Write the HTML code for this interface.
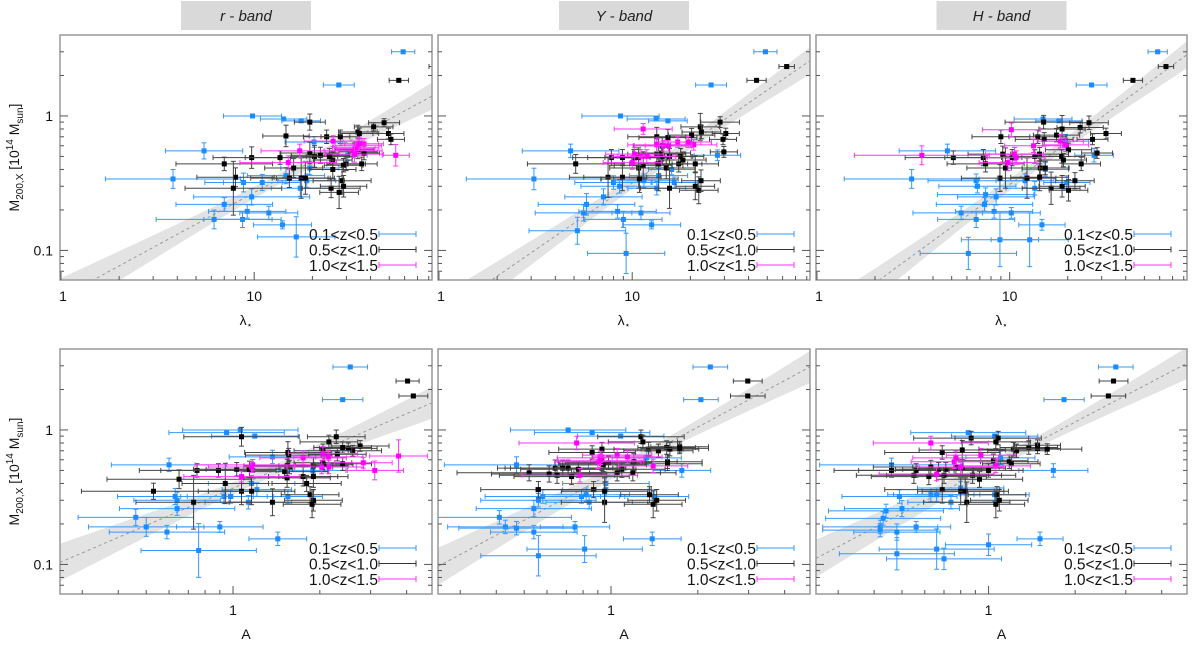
<!DOCTYPE html>
<html><head><meta charset="utf-8">
<style>
html,body{margin:0;padding:0;background:#fff;}
svg{display:block;font-family:"Liberation Sans",sans-serif;}
</style></head>
<body>
<svg id="fig" width="1200" height="647" viewBox="0 0 1200 647" xmlns="http://www.w3.org/2000/svg"></svg>
<script>
// ---------- data: [x, M200 (1e14 Msun), group(0:0.1-0.5,1:0.5-1.0,2:1.0-1.5), xErr(dex), yErr(dex)] ----------
const rLam = [[59,3.0,0,.06,.01],[27.4,1.7,0,.08,.01],[9.8,1.0,0,.15,.01],[14.2,.95,0,.12,.01],[17.5,.92,0,.1,.01],[5.5,.55,0,.2,.06],[20.4,.64,0,.15,.04],[3.8,.34,0,.35,.07],[7.0,.22,0,.25,.05],[8.7,.17,0,.2,.06],[9.2,.195,0,.2,.05],[11.9,.19,0,.15,.05],[14,.155,0,.15,.03],[16.5,.126,0,.2,.15],[9.7,.25,0,.3,.06],[8.8,.32,0,.2,.07],[11,.32,0,.2,.06],[14.6,.36,0,.2,.06],[17.3,.29,0,.15,.06],[18.7,.33,0,.15,.05],[19.4,.41,0,.15,.05],[30.5,.51,0,.1,.04],[6.2,.17,0,.3,.07],
[88,2.33,1,.04,.01],[56,1.84,1,.05,.01],[19.4,.9,1,.08,.06],[47,.89,1,.08,.03],[41.5,.83,1,.1,.03],[14.6,.71,1,.12,.08],[23.7,.70,1,.12,.05],[27.9,.70,1,.1,.05],[34.4,.76,1,.1,.05],[49.5,.74,1,.08,.04],[51,.67,1,.07,.04],[9.7,.49,1,.2,.08],[7.0,.44,1,.25,.05],[8.0,.35,1,.2,.07],[7.8,.29,1,.25,.2],[13.6,.49,1,.18,.05],[19.4,.53,1,.15,.08],[20.5,.5,1,.12,.08],[22,.51,1,.15,.06],[16,.41,1,.15,.07],[15.2,.345,1,.2,.07],[17.5,.345,1,.15,.15],[18.4,.345,1,.15,.12],[24.5,.5,1,.12,.06],[25.5,.47,1,.1,.06],[25.5,.40,1,.12,.07],[29.9,.44,1,.1,.05],[29,.43,1,.1,.05],[28.5,.33,1,.15,.1],[25,.29,1,.15,.07],[27.5,.27,1,.1,.12],[29,.30,1,.12,.08],[33,.56,1,.1,.05],[34.4,.54,1,.1,.05],[37,.53,1,.08,.05],[36,.44,1,.08,.05],[35,.74,1,.1,.04],
[33.5,.58,2,.12,.05],[32.5,.55,2,.15,.05],[37,.62,2,.1,.04],[34.5,.6,2,.12,.05],[33.5,.57,2,.1,.05],[54,.51,2,.07,.08],[25.6,.65,2,.15,.04],[17.2,.55,2,.2,.05],[15,.45,2,.25,.05],[33,.52,2,.15,.06],[35,.62,2,.1,.05]];
const yLam = [[48.9,3.0,0,.06,.01],[25.6,1.7,0,.08,.01],[8.7,1.0,0,.2,.01],[13.3,.95,0,.15,.01],[15.3,.92,0,.1,.01],[4.8,.55,0,.25,.05],[27.6,.51,0,.12,.04],[3.1,.34,0,.35,.08],[5.8,.22,0,.25,.08],[5.6,.19,0,.25,.06],[8.4,.195,0,.2,.05],[9.0,.17,0,.2,.06],[11.1,.19,0,.15,.05],[12.6,.155,0,.15,.03],[9.3,.095,0,.2,.15],[5.2,.14,0,.25,.1],[7.1,.25,0,.2,.06],[8.0,.32,0,.2,.05],[8.6,.30,0,.2,.05],[11.5,.33,0,.15,.05],[13.7,.36,0,.15,.05],[13.4,.29,0,.15,.05],[16,.40,0,.12,.04],[16.5,.32,0,.12,.04],
[63,2.33,1,.04,.01],[44,1.84,1,.05,.01],[28.5,.9,1,.1,.04],[22.5,.83,1,.1,.1],[22.8,.76,1,.1,.05],[30.5,.74,1,.07,.04],[29.5,.67,1,.07,.04],[29.8,.54,1,.07,.04],[13.4,.70,1,.15,.07],[15.3,.69,1,.15,.06],[14.3,.6,1,.15,.06],[20.3,.72,1,.12,.05],[5.1,.44,1,.25,.07],[7.8,.49,1,.2,.06],[8.9,.49,1,.18,.06],[10.2,.49,1,.15,.06],[10.8,.49,1,.15,.06],[13.4,.52,1,.15,.06],[14.2,.53,1,.15,.06],[14.3,.5,1,.15,.06],[15.6,.5,1,.12,.06],[17.8,.5,1,.12,.06],[18.3,.47,1,.12,.06],[7.5,.35,1,.2,.15],[8.9,.35,1,.2,.1],[10.8,.41,1,.15,.15],[11.4,.43,1,.15,.1],[13.7,.44,1,.15,.2],[15,.41,1,.15,.08],[17.4,.44,1,.12,.06],[21.2,.44,1,.12,.06],[15.6,.29,1,.15,.15],[21.2,.30,1,.1,.1],[22.1,.28,1,.1,.1],[22.7,.33,1,.1,.08],[10.9,.34,1,.2,.1],
[11.4,.8,2,.15,.04],[17.2,.64,2,.12,.04],[19.5,.64,2,.12,.04],[20.8,.61,2,.12,.04],[13.4,.61,2,.15,.05],[10.3,.52,2,.15,.05],[10,.45,2,.15,.05],[11.1,.5,2,.15,.05],[11.9,.5,2,.15,.05],[14.5,.6,2,.15,.04],[15.4,.6,2,.12,.04]];
const hLam = [[58.6,3.0,0,.05,.01],[26.6,1.7,0,.08,.01],[14.9,.95,0,.15,.01],[18,.92,0,.12,.01],[4.75,.55,0,.25,.05],[27.4,.51,0,.1,.05],[3.1,.34,0,.35,.07],[6.7,.33,0,.25,.05],[6.8,.30,0,.2,.05],[7.5,.26,0,.25,.05],[7.4,.22,0,.25,.05],[8.5,.25,0,.2,.06],[8.3,.195,0,.2,.05],[5.6,.19,0,.25,.05],[6.7,.17,0,.2,.06],[10.2,.19,0,.15,.04],[14.7,.155,0,.12,.04],[6.1,.095,0,.25,.12],[8.9,.12,0,.2,.2],[12.7,.12,0,.2,.2],[12,.33,0,.15,.05],[13.5,.29,0,.15,.05],[15.3,.40,0,.12,.05],[19.8,.32,0,.12,.05],[19.5,.65,0,.12,.05],
[64.7,2.33,1,.04,.01],[43.6,1.84,1,.05,.01],[15,.9,1,.2,.05],[25.8,.89,1,.1,.05],[31.6,.74,1,.08,.04],[26.9,.67,1,.08,.04],[28.4,.53,1,.08,.04],[23.2,.82,1,.12,.04],[18.7,.8,1,.12,.1],[9,.70,1,.15,.05],[14,.7,1,.15,.05],[15.1,.67,1,.15,.05],[17.5,.72,1,.12,.05],[5.1,.49,1,.25,.05],[7.3,.49,1,.2,.06],[7.5,.44,1,.2,.06],[9.2,.52,1,.18,.06],[10.3,.49,1,.15,.06],[9.5,.41,1,.2,.15],[13.5,.5,1,.15,.05],[14.3,.52,1,.15,.05],[14.4,.41,1,.15,.05],[15.3,.41,1,.12,.05],[18.6,.5,1,.12,.05],[20.2,.56,1,.12,.05],[19,.47,1,.12,.05],[23.5,.44,1,.1,.05],[8.9,.345,1,.2,.1],[12.3,.345,1,.15,.15],[14.3,.35,1,.15,.1],[16.4,.29,1,.15,.12],[18.7,.30,1,.12,.08],[20.2,.28,1,.1,.08],[21.8,.33,1,.1,.06],
[10.2,.79,2,.15,.05],[3.5,.51,2,.35,.07],[13.3,.6,2,.15,.05],[18.3,.65,2,.12,.05],[19.5,.61,2,.12,.05],[10.6,.52,2,.15,.05],[9.8,.45,2,.15,.06],[10.8,.49,2,.15,.05]];
const rA = [[2.55,2.94,0,.06,.01],[2.4,1.68,0,.07,.01],[.95,.955,0,.2,.01],[1.06,1.0,0,.2,.01],[1.19,.9,0,.15,.01],[.6,.55,0,.2,.05],[1.37,.63,0,.15,.05],[1.89,.5,0,.12,.05],[.46,.224,0,.2,.06],[.5,.19,0,.2,.07],[.59,.174,0,.2,.05],[.63,.32,0,.2,.06],[.64,.30,0,.15,.06],[.64,.26,0,.2,.05],[.9,.19,0,.15,.04],[.93,.32,0,.15,.05],[.98,.32,0,.15,.05],[1.13,.29,0,.15,.05],[1.16,.40,0,.15,.06],[1.21,.36,0,.12,.05],[1.55,.32,0,.12,.05],[1.43,.155,0,.1,.05],[.76,.127,0,.2,.2],
[4.03,2.31,1,.04,.01],[4.22,1.79,1,.05,.01],[1.07,.89,1,.2,.07],[2.15,.815,1,.1,.05],[2.28,.89,1,.1,.05],[2.51,.73,1,.1,.04],[2.6,.7,1,.1,.04],[2.76,.76,1,.1,.04],[2.4,.74,1,.1,.04],[2.05,.7,1,.1,.05],[2.3,.66,1,.1,.05],[1.55,.68,1,.15,.08],[1.56,.65,1,.15,.05],[1.57,.53,1,.15,.05],[1.54,.54,1,.15,.05],[1.51,.49,1,.15,.05],[1.54,.44,1,.15,.07],[1.75,.45,1,.12,.07],[1.8,.4,1,.12,.06],[1.9,.54,1,.12,.06],[1.9,.45,1,.12,.08],[2.05,.57,1,.1,.05],[2.07,.55,1,.1,.05],[2.4,.56,1,.1,.05],[.53,.35,1,.25,.06],[.65,.43,1,.25,.07],[.75,.5,1,.2,.05],[.89,.5,1,.2,.05],[1.03,.51,1,.15,.05],[1.14,.51,1,.15,.06],[.94,.4,1,.15,.15],[.73,.29,1,.2,.2],[1.07,.35,1,.15,.1],[1.16,.35,1,.15,.1],[1.37,.29,1,.15,.1],[1.85,.33,1,.1,.06],[1.9,.30,1,.1,.08],[1.88,.28,1,.1,.1],
[1.75,.62,2,.15,.05],[2.05,.67,2,.12,.05],[2.14,.63,2,.12,.05],[2.03,.53,2,.12,.05],[2.15,.53,2,.12,.05],[2.83,.57,2,.1,.04],[1.07,.45,2,.2,.04],[1.17,.55,2,.2,.04],[1.16,.53,2,.15,.04],[3.75,.64,2,.1,.12],[3.1,.5,2,.1,.07]];
const yA = [[2.21,2.94,0,.06,.01],[2.05,1.68,0,.06,.01],[.71,1.0,0,.2,.01],[.86,.955,0,.2,.01],[1.08,.9,0,.15,.01],[.47,.55,0,.25,.06],[1.76,.5,0,.1,.05],[.41,.224,0,.25,.05],[.43,.19,0,.2,.05],[.47,.186,0,.2,.05],[.54,.174,0,.15,.05],[.56,.3,0,.2,.05],[.58,.32,0,.2,.05],[.54,.26,0,.2,.06],[.75,.19,0,.12,.04],[.79,.32,0,.15,.05],[.82,.33,0,.15,.05],[.84,.29,0,.15,.05],[.96,.4,0,.15,.05],[.96,.36,0,.15,.05],[1.41,.32,0,.12,.05],[1.33,.62,0,.12,.05],[1.39,.155,0,.1,.05],[.56,.116,0,.2,.15],[.81,.13,0,.2,.1],
[2.98,2.31,1,.05,.01],[2.98,1.79,1,.06,.01],[1.27,.89,1,.15,.05],[1.29,.815,1,.12,.05],[1.35,.72,1,.12,.05],[1.46,.70,1,.12,.05],[1.56,.74,1,.1,.05],[1.6,.72,1,.1,.05],[1.73,.75,1,.1,.04],[1.73,.73,1,.1,.04],[.93,.72,1,.15,.05],[.86,.68,1,.15,.05],[.93,.58,1,.15,.05],[.98,.57,1,.15,.05],[.93,.56,1,.15,.05],[.94,.55,1,.15,.05],[1.05,.48,1,.15,.06],[1.09,.51,1,.15,.06],[1.19,.48,1,.15,.06],[1.2,.58,1,.15,.06],[1.57,.58,1,.12,.05],[1.57,.56,1,.12,.05],[.52,.48,1,.25,.06],[.61,.47,1,.2,.06],[.64,.52,1,.2,.06],[.68,.52,1,.2,.06],[.71,.52,1,.2,.06],[.77,.51,1,.2,.06],[.65,.46,1,.2,.06],[.73,.45,1,.2,.06],[.87,.36,1,.2,.06],[.56,.36,1,.2,.06],[.95,.29,1,.15,.15],[.95,.35,1,.15,.1],[1.36,.33,1,.1,.06],[1.4,.28,1,.1,.1],[1.44,.3,1,.1,.08],
[.76,.8,2,.2,.05],[.78,.46,2,.2,.05],[.9,.58,2,.15,.05],[.92,.62,2,.15,.05],[1.05,.65,2,.12,.05],[1.14,.63,2,.12,.05],[1.4,.54,2,.12,.05],[.92,.59,2,.15,.05]];
const hA = [[2.77,2.94,0,.06,.01],[1.83,1.68,0,.07,.01],[.85,.955,0,.2,.01],[1.05,.9,0,.15,.01],[.46,.55,0,.25,.05],[1.68,.5,0,.12,.05],[.44,.25,0,.2,.05],[.43,.22,0,.2,.05],[.42,.19,0,.2,.05],[.42,.18,0,.2,.05],[.48,.174,0,.15,.06],[.56,.19,0,.12,.04],[.49,.32,0,.2,.05],[.5,.26,0,.2,.06],[.63,.33,0,.15,.05],[.66,.33,0,.15,.05],[.74,.29,0,.15,.05],[.8,.37,0,.15,.05],[1.1,.62,0,.12,.05],[1.05,.33,0,.12,.05],[1.51,.155,0,.08,.05],[.48,.12,0,.2,.12],[.66,.13,0,.2,.15],[.7,.11,0,.2,.08],[1.0,.14,0,.15,.08],
[2.72,2.31,1,.05,.01],[2.61,1.79,1,.06,.01],[.87,.87,1,.2,.05],[1.08,.87,1,.15,.05],[1.06,.815,1,.12,.05],[1.22,.72,1,.12,.05],[1.25,.70,1,.1,.05],[1.38,.74,1,.1,.05],[1.48,.77,1,.08,.04],[1.48,.73,1,.08,.04],[1.6,.72,1,.12,.04],[.69,.68,1,.2,.05],[.81,.71,1,.15,.07],[.46,.5,1,.2,.05],[.56,.5,1,.2,.05],[.63,.53,1,.2,.05],[.67,.51,1,.15,.05],[.71,.51,1,.15,.05],[.77,.53,1,.15,.05],[.81,.52,1,.15,.05],[.88,.46,1,.15,.06],[.93,.43,1,.15,.06],[1.0,.5,1,.12,.05],[1.04,.59,1,.12,.05],[1.18,.58,1,.1,.05],[1.2,.56,1,.1,.05],[.55,.46,1,.2,.06],[.62,.45,1,.2,.06],[.70,.46,1,.2,.06],[.69,.36,1,.2,.1],[.8,.35,1,.15,.1],[.83,.35,1,.15,.1],[.84,.29,1,.15,.15],[1.07,.33,1,.1,.06],[1.06,.28,1,.1,.1],[1.09,.3,1,.1,.08],
[.63,.8,2,.2,.05],[.66,.47,2,.2,.05],[.76,.58,2,.15,.05],[.77,.62,2,.15,.05],[.94,.65,2,.12,.05],[1.06,.54,2,.12,.05],[.8,.53,2,.15,.05]];
// best-fit relations: log M = intercept + slope * log x
const fitSlopes = [0.78, 0.99, 1.05, 0.92, 1.15, 1.125];
const fitIntercepts = [-1.35, -1.49, -1.56, -0.433, -0.325, -0.28];
const bandLabels = ["r - band", "Y - band", "H - band"];
const legendLabels = ["0.1<z<0.5", "0.5<z<1.0", "1.0<z<1.5"];
const yTickLabels = ["0.1", "1"];
const topXTickLabels = ["1", "10"];
const botXTickLabels = ["1"];

// ---------- drawing ----------
const NS = "http://www.w3.org/2000/svg";
const svg = document.getElementById("fig");
function mk(tag, attrs, parent) {
  const e = document.createElementNS(NS, tag);
  for (const k in attrs) e.setAttribute(k, attrs[k]);
  (parent || svg).appendChild(e);
  return e;
}
const colMark = ["#1a8cff", "#000000", "#ff00ff"];
const colErr = ["#3399ff", "#444444", "#ff33ff"];
const colLeg = ["#3399ff", "#333333", "#ff33ff"];
const groupNames = ["low-z", "mid-z", "high-z"];
const xCols = [[60, 432], [438, 810], [816, 1187]];
const rows = [{y0: 35, y1: 280, lx: [-0.005, 1.92], piv: 1.15, hw0: 0.04, hwk: 0.12},
              {y0: 349, y1: 594, lx: [-0.6, 0.69], piv: 0.1, hw0: 0.04, hwk: 0.19}];
const LY = [-1.22, 0.602];
const datasets = [rLam, yLam, hLam, rA, yA, hA];
const panelNames = ["r-band-lambda", "y-band-lambda", "h-band-lambda", "r-band-a", "y-band-a", "h-band-a"];

// band header boxes
bandLabels.forEach((lab, i) => {
  const cx = (xCols[i][0] + xCols[i][1]) / 2;
  const g = mk("g", {});
  
  
  mk("rect", {x: cx - 65, y: 1, width: 130, height: 29, fill: "#d9d9d9"}, g);
  const t = mk("text", {x: cx, y: 21, "text-anchor": "middle", "font-size": 15, "font-style": "italic", fill: "#222"}, g);
  t.textContent = lab;
});

for (let p = 0; p < 6; p++) {
  const row = rows[p < 3 ? 0 : 1], col = xCols[p % 3];
  const X0 = col[0], X1 = col[1], Y0 = row.y0, Y1 = row.y1;
  const sx = lx => X0 + (lx - row.lx[0]) / (row.lx[1] - row.lx[0]) * (X1 - X0);
  const sy = ly => Y1 - (ly - LY[0]) / (LY[1] - LY[0]) * (Y1 - Y0);
  const g = mk("g", {});
  
  
  const clipId = "clip" + p;
  const cp = mk("clipPath", {id: clipId}, g);
  mk("rect", {x: X0, y: Y0, width: X1 - X0, height: Y1 - Y0}, cp);
  const plot = mk("g", {"clip-path": "url(#" + clipId + ")"}, g);

  // fit band
  const sl = fitSlopes[p], ic = fitIntercepts[p];
  const up = [], dn = [];
  for (let k = 0; k <= 40; k++) {
    const lx = row.lx[0] + (row.lx[1] - row.lx[0]) * k / 40;
    const hw = Math.sqrt(row.hw0 * row.hw0 + Math.pow(row.hwk * (lx - row.piv), 2));
    const m = ic + sl * lx;
    up.push(sx(lx).toFixed(1) + "," + sy(m + hw).toFixed(1));
    dn.unshift(sx(lx).toFixed(1) + "," + sy(m - hw).toFixed(1));
  }
  const band = mk("polygon", {points: up.concat(dn).join(" "), fill: "#e3e3e3"}, plot);
  
  
  const fl = mk("line", {x1: sx(row.lx[0]), y1: sy(ic + sl * row.lx[0]), x2: sx(row.lx[1]), y2: sy(ic + sl * row.lx[1]), stroke: "#999", "stroke-width": 1, "stroke-dasharray": "3,3"}, plot);
  
  

  // points
  datasets[p].forEach(d => {
    const lx = Math.log10(d[0]), ly = Math.log10(d[1]), gr = d[2];
    const cx = sx(lx), cy = sy(ly);
    const xa = sx(lx - d[3]), xb = sx(lx + d[3]), ya = sy(ly - d[4]), yb = sy(ly + d[4]);
    const pg = mk("g", {stroke: colErr[gr], "stroke-width": 1}, plot);
    
    
    mk("line", {x1: xa, y1: cy, x2: xb, y2: cy}, pg);
    mk("line", {x1: xa, y1: cy - 2.5, x2: xa, y2: cy + 2.5}, pg);
    mk("line", {x1: xb, y1: cy - 2.5, x2: xb, y2: cy + 2.5}, pg);
    mk("line", {x1: cx, y1: ya, x2: cx, y2: yb}, pg);
    mk("line", {x1: cx - 2.5, y1: ya, x2: cx + 2.5, y2: ya}, pg);
    mk("line", {x1: cx - 2.5, y1: yb, x2: cx + 2.5, y2: yb}, pg);
    mk("rect", {x: cx - 2.5, y: cy - 2.5, width: 5, height: 5, fill: colMark[gr], stroke: "none"}, pg);
  });

  // frame
  const fr = mk("rect", {x: X0, y: Y0, width: X1 - X0, height: Y1 - Y0, fill: "none", stroke: "#999", "stroke-width": 1.5}, g);
  
  

  // y ticks
  const yt = mk("g", {stroke: "#555", "stroke-width": 1}, g);
  
  
  [0.06,0.07,0.08,0.09,0.1,0.2,0.3,0.4,0.5,0.6,0.7,0.8,0.9,1,2,3,4].forEach(v => {
    const ly = Math.log10(v);
    if (ly < LY[0] || ly > LY[1]) return;
    const major = (v === 0.1 || v === 1);
    const L = major ? 8 : 4, y = sy(ly);
    mk("line", {x1: X0, y1: y, x2: X0 + L, y2: y}, yt);
    mk("line", {x1: X1, y1: y, x2: X1 - L, y2: y}, yt);
  });
  if (p % 3 === 0) {
    yTickLabels.forEach(s => {
      const t = mk("text", {x: X0 - 7, y: sy(Math.log10(parseFloat(s))) + 5, "text-anchor": "end", "font-size": 14, fill: "#111"}, g);
      
      
      t.textContent = s;
    });
    const cy = (Y0 + Y1) / 2;
    const yl = mk("text", {transform: "translate(19," + cy + ") rotate(-90)", "text-anchor": "middle", "font-size": 14, fill: "#111"}, g);
    
    
    yl.innerHTML = 'M<tspan font-size="10" dy="4">200,X</tspan><tspan dy="-4"> [10</tspan><tspan font-size="10" dy="-6">14</tspan><tspan dy="6"> M</tspan><tspan font-size="10" dy="4">sun</tspan><tspan dy="-4">]</tspan>';
  }

  // x ticks
  const xt = mk("g", {stroke: "#555", "stroke-width": 1}, g);
  
  
  const xv = p < 3 ? [1,2,3,4,5,6,7,8,9,10,20,30,40,50,60,70,80,90] : [0.2,0.3,0.4,0.5,0.6,0.7,0.8,0.9,1,2,3,4];
  xv.forEach(v => {
    const lx = Math.log10(v);
    if (lx < row.lx[0] || lx > row.lx[1]) return;
    const major = (v === 1 || v === 10);
    const x = sx(lx);
    mk("line", {x1: x, y1: Y1, x2: x, y2: Y1 - (major ? 8 : 4)}, xt);
  });
  const labs = p < 3 ? topXTickLabels : botXTickLabels;
  labs.forEach(s => {
    const t = mk("text", {x: Math.max(sx(Math.log10(parseFloat(s))), X0 + 3), y: Y1 + 21, "text-anchor": "middle", "font-size": 14, fill: "#111"}, g);
    
    
    t.textContent = s;
  });
  const xl = mk("text", {x: (X0 + X1) / 2, y: Y1 + 45, "text-anchor": "middle", "font-size": 14, fill: "#111"}, g);
  
  
  if (p < 3) xl.innerHTML = 'λ<tspan font-size="9" dy="3">⋆</tspan>'; else xl.textContent = 'A';

  // legend
  const lg = mk("g", {}, g);
  
  
  legendLabels.forEach((s, i) => {
    const ey = Y1 - 46 + i * 15.5;
    const e = mk("g", {}, lg);
    
    
    const t = mk("text", {x: X1 - 123, y: ey + 6, "font-size": 15.5, fill: "#111"}, e);
    t.textContent = s;
    mk("line", {x1: X1 - 53, y1: ey, x2: X1 - 16, y2: ey, stroke: colLeg[i], "stroke-width": 1}, e);
    mk("line", {x1: X1 - 53, y1: ey - 3, x2: X1 - 53, y2: ey + 3, stroke: colLeg[i], "stroke-width": 1}, e);
    mk("line", {x1: X1 - 16, y1: ey - 3, x2: X1 - 16, y2: ey + 3, stroke: colLeg[i], "stroke-width": 1}, e);
  });
}
</script>
</body></html>
